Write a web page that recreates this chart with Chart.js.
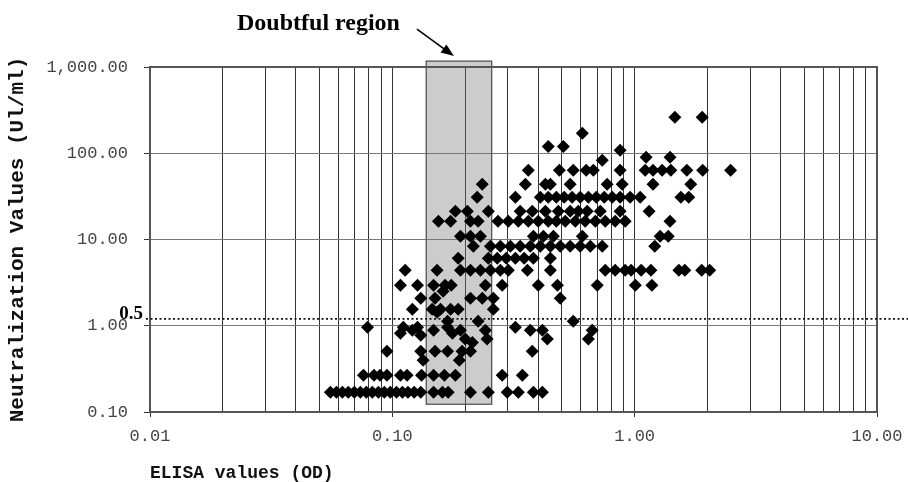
<!DOCTYPE html>
<html>
<head>
<meta charset="utf-8">
<script src="https://cdn.jsdelivr.net/npm/chart.js@4.4.1/dist/chart.umd.min.js"></script>
<style>
  html, body { margin: 0; padding: 0; background: #fff; }
  #wrap { width: 908px; height: 482px; position: relative; }
</style>
</head>
<body>
<div id="wrap"><canvas id="grafico"></canvas></div>
<script>
// Neutralization titre (UI/ml) levels, one row of points per level
const titerLevels = [
  261, 171, 120, 108, 90, 83, 63.5, 43.7, 30.9, 21.3, 16.3, 10.9, 8.35, 6.06, 4.4,
  2.95, 2.51, 2.08, 1.55, 1.43, 1.13, 0.96, 0.887, 0.818, 0.776, 0.70, 0.64,
  0.506, 0.398, 0.267, 0.169
];

// ELISA OD values read for each titre level (same order as titerLevels)
const elisaByLevel = [
  [1.465, 1.90],
  [0.608],
  [0.440, 0.508],
  [0.871],
  [1.115, 1.40],
  [0.735],
  [0.364, 0.489, 0.558, 0.631, 0.675, 0.871, 1.105, 1.19, 1.298, 1.41, 1.641, 1.908, 2.488],
  [0.235, 0.354, 0.428, 0.449, 0.542, 0.770, 0.888, 1.19, 1.704],
  [0.224, 0.322, 0.408, 0.440, 0.475, 0.512, 0.552, 0.596, 0.644, 0.694, 0.749, 0.808, 0.871, 0.958, 1.054, 1.551, 1.672],
  [0.182, 0.204, 0.249, 0.337, 0.378, 0.428, 0.484, 0.542, 0.585, 0.637, 0.721, 0.871, 1.147],
  [0.155, 0.174, 0.210, 0.226, 0.273, 0.301, 0.331, 0.364, 0.400, 0.440, 0.475, 0.517, 0.569, 0.625, 0.688, 0.756, 0.831, 0.914, 1.399],
  [0.191, 0.210, 0.231, 0.382, 0.420, 0.462, 0.608, 1.274, 1.376],
  [0.216, 0.254, 0.279, 0.307, 0.337, 0.371, 0.408, 0.449, 0.493, 0.542, 0.596, 0.656, 0.735, 1.21],
  [0.187, 0.249, 0.271, 0.295, 0.322, 0.350, 0.382, 0.449],
  [0.113, 0.153, 0.191, 0.210, 0.231, 0.254, 0.279, 0.301, 0.361, 0.449, 0.756, 0.831, 0.914, 0.967, 1.064, 1.167, 1.522, 1.61, 1.89, 2.04],
  [0.108, 0.127, 0.148, 0.165, 0.175, 0.242, 0.284, 0.400, 0.480, 0.701, 1.006, 1.178],
  [0.162],
  [0.131, 0.150, 0.210, 0.235, 0.261, 0.493],
  [0.121, 0.146, 0.158, 0.174, 0.187, 0.261],
  [0.153],
  [0.169, 0.226, 0.558],
  [0.079, 0.111, 0.127, 0.169, 0.322],
  [0.121, 0.148, 0.191, 0.242, 0.371, 0.416, 0.668],
  [0.108, 0.177],
  [0.131],
  [0.200, 0.246, 0.436, 0.644],
  [0.214],
  [0.095, 0.131, 0.150, 0.169, 0.194, 0.210, 0.378],
  [0.134, 0.189],
  [0.076, 0.084, 0.089, 0.095, 0.108, 0.115, 0.132, 0.148, 0.164, 0.182, 0.284, 0.344],
  [0.0555, 0.0588, 0.0622, 0.0658, 0.0697, 0.0738, 0.0781, 0.0827, 0.0876, 0.0927, 0.0981, 0.104,
   0.110, 0.116, 0.123, 0.131, 0.148, 0.161, 0.170, 0.210, 0.249, 0.298, 0.331, 0.382, 0.416]
];

// Axis ticks (decades) and annotations
const xDecades = [0.01, 0.1, 1, 10];
const yDecades = [0.1, 1, 10, 100, 1000];
const doubtfulOD = [0.138, 0.257];
const doubtfulTiter = [0.123, 1170];
const cutoffTiter = 1.2;
const cutoffLabel = "0.5";
const doubtfulText = "Doubtful region";

const pontos = [];
titerLevels.forEach((t, i) => {
  elisaByLevel[i].forEach((od) => pontos.push({ x: od, y: t }));
});

function formatar(v) {
  return v.toLocaleString("en-US", { minimumFractionDigits: 2, maximumFractionDigits: 2 });
}

// Shaded band, cut-off line, labels and the arrow
const decoracoes = {
  id: "decoracoes",
  beforeDatasetsDraw(chart) {
    const { ctx, chartArea, scales: { x, y } } = chart;
    const l = x.getPixelForValue(doubtfulOD[0]);
    const r = x.getPixelForValue(doubtfulOD[1]);
    const t = y.getPixelForValue(doubtfulTiter[1]);
    const b = y.getPixelForValue(doubtfulTiter[0]);
    ctx.save();
    ctx.fillStyle = "rgba(120,120,120,0.38)";
    ctx.fillRect(l, t, r - l, b - t);
    ctx.strokeStyle = "#555";
    ctx.lineWidth = 1.3;
    ctx.strokeRect(l, t, r - l, b - t);

    // frame of the plot
    ctx.strokeStyle = "#555";
    ctx.lineWidth = 2;
    ctx.strokeRect(chartArea.left, chartArea.top, chartArea.right - chartArea.left, chartArea.bottom - chartArea.top);
    ctx.restore();
  },
  afterDraw(chart) {
    const { ctx, chartArea, scales: { x, y } } = chart;
    ctx.save();

    // dotted cut-off line
    const yc = y.getPixelForValue(cutoffTiter);
    ctx.strokeStyle = "#111";
    ctx.lineWidth = 1.6;
    ctx.setLineDash([2, 2.5]);
    ctx.beginPath();
    ctx.moveTo(chartArea.left - 4, yc);
    ctx.lineTo(chart.width, yc);
    ctx.stroke();
    ctx.setLineDash([]);

    ctx.fillStyle = "#000";
    ctx.font = "bold 19px 'Liberation Serif'";
    ctx.textAlign = "right";
    ctx.textBaseline = "alphabetic";
    ctx.fillText(cutoffLabel, chartArea.left - 7, yc);

    // arrow pointing at the doubtful region
    const l = x.getPixelForValue(doubtfulOD[0]);
    const r = x.getPixelForValue(doubtfulOD[1]);
    const t = y.getPixelForValue(doubtfulTiter[1]);
    const tipX = (l + r) / 2 - 5, tipY = t - 5;
    const tailX = tipX - 37, tailY = tipY - 27;
    const ang = Math.atan2(tipY - tailY, tipX - tailX);
    ctx.strokeStyle = "#000";
    ctx.lineWidth = 1.6;
    ctx.beginPath();
    ctx.moveTo(tailX, tailY);
    ctx.lineTo(tipX - 8 * Math.cos(ang), tipY - 8 * Math.sin(ang));
    ctx.stroke();
    ctx.beginPath();
    ctx.moveTo(tipX, tipY);
    ctx.lineTo(tipX - 13 * Math.cos(ang) + 5 * Math.sin(ang), tipY - 13 * Math.sin(ang) - 5 * Math.cos(ang));
    ctx.lineTo(tipX - 13 * Math.cos(ang) - 5 * Math.sin(ang), tipY - 13 * Math.sin(ang) + 5 * Math.cos(ang));
    ctx.closePath();
    ctx.fill();

    ctx.font = "bold 24px 'Liberation Serif'";
    ctx.textAlign = "right";
    ctx.fillText(doubtfulText, tailX - 17, 30);
    ctx.restore();
  }
};

const ctx = document.getElementById("grafico");

new Chart(ctx, {
  type: "scatter",
  data: {
    datasets: [{
      data: pontos,
      pointStyle: "rectRot",
      pointRadius: 6.5,
      pointHoverRadius: 6.5,
      backgroundColor: "#000",
      borderColor: "#000",
      borderWidth: 0
    }]
  },
  options: {
    responsive: true,
    maintainAspectRatio: false,
    animation: false,
    events: [],
    layout: { padding: { top: 67, right: 31, left: 0, bottom: 0 } },
    scales: {
      x: {
        type: "logarithmic",
        min: 0.01,
        max: 10,
        afterFit: (s) => {
          s.height = 70;
          s.paddingLeft = 0;
          s.paddingRight = 0;
        },
        afterBuildTicks: (s) => {
          const ticks = [];
          xDecades.forEach((d, i) => {
            ticks.push({ value: d, major: true });
            if (i < xDecades.length - 1) {
              for (let m = 2; m <= 9; m++) ticks.push({ value: +(m * d).toPrecision(3), major: false });
            }
          });
          s.ticks = ticks;
        },
        border: { display: false },
        grid: {
          color: "#333",
          lineWidth: 1,
          tickLength: 5,
          tickColor: (c) => (c.tick && c.tick.major ? "#333" : "rgba(0,0,0,0)")
        },
        ticks: {
          autoSkip: false,
          maxRotation: 0,
          padding: 9,
          color: "#444",
          font: { family: "'Liberation Mono'", size: 17 },
          callback: function (value, index, ticks) {
            return ticks[index].major ? formatar(value) : "";
          }
        },
        title: {
          display: true,
          text: "ELISA values (OD)",
          align: "start",
          color: "#111",
          font: { family: "'Liberation Mono'", size: 18, weight: "bold" },
          padding: { top: 0, bottom: -2 }
        }
      },
      y: {
        type: "logarithmic",
        min: 0.1,
        max: 1000,
        afterFit: (s) => { s.width = 150; },
        afterBuildTicks: (s) => { s.ticks = yDecades.map((v) => ({ value: v, major: true })); },
        border: { display: false },
        grid: { color: "#777", lineWidth: 1, tickLength: 6, tickColor: "#333" },
        ticks: {
          padding: 16,
          color: "#444",
          font: { family: "'Liberation Mono'", size: 17 },
          callback: (value) => formatar(value)
        },
        title: {
          display: true,
          text: "Neutralization Values (Ul/ml)",
          color: "#111",
          font: { family: "'Liberation Mono'", size: 21, weight: "bold" },
          padding: { top: 5, bottom: 0 }
        }
      }
    },
    plugins: {
      legend: { display: false },
      tooltip: { enabled: false }
    }
  },
  plugins: [decoracoes]
});
</script>
</body>
</html>
